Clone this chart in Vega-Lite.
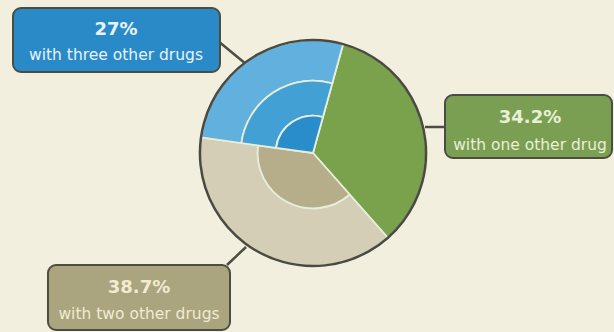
{
  "$schema": "https://vega.github.io/schema/vega-lite/v6.json",
  "width": 614,
  "height": 332,
  "padding": 0,
  "autosize": {"type": "none"},
  "background": "#f3efdf",
  "config": {"view": {"stroke": null}},
  "datasets": {
    "pie": [
      {"part": "pie-one", "t0": 0, "t1": 34.2, "r0": 0, "r1": 100, "cx": 313, "cy": 153},
      {"part": "pie-two-outer", "t0": 34.2, "t1": 72.9, "r0": 49, "r1": 100, "cx": 313, "cy": 153},
      {"part": "pie-two-inner", "t0": 34.2, "t1": 72.9, "r0": 0, "r1": 49, "cx": 313, "cy": 153},
      {"part": "pie-three-outer", "t0": 72.9, "t1": 100, "r0": 64, "r1": 100, "cx": 313, "cy": 153},
      {"part": "pie-three-mid", "t0": 72.9, "t1": 100, "r0": 33, "r1": 64, "cx": 313, "cy": 153},
      {"part": "pie-three-inner", "t0": 72.9, "t1": 100, "r0": 0, "r1": 33, "cx": 313, "cy": 153}
    ],
    "rim": [
      {"t0": 0, "t1": 100, "r0": 0, "r1": 100, "cx": 313, "cy": 153}
    ],
    "labels": [
      {"box": "three", "pct": "27%", "desc": "with three other drugs", "bx0": 13, "bx1": 220, "by0": 8, "by1": 72, "tx": 116, "ty1": 30, "ty2": 55, "lx0": 218, "ly0": 41, "lx1": 246, "ly1": 64},
      {"box": "one", "pct": "34.2%", "desc": "with one other drug", "bx0": 445, "bx1": 612, "by0": 95, "by1": 158, "tx": 530, "ty1": 118, "ty2": 145, "lx0": 425, "ly0": 127, "lx1": 445, "ly1": 127},
      {"box": "two", "pct": "38.7%", "desc": "with two other drugs", "bx0": 48, "bx1": 230, "by0": 265, "by1": 330, "tx": 139, "ty1": 288, "ty2": 314, "lx0": 246, "ly0": 247, "lx1": 227, "ly1": 265}
    ]
  },
  "layer": [
    {
      "data": {"name": "labels"},
      "mark": {"type": "rule", "stroke": "#4d4d44", "strokeWidth": 2.5},
      "encoding": {
        "x": {"field": "lx0", "type": "quantitative", "scale": {"domain": [0, 614], "nice": false, "zero": false}, "axis": null},
        "y": {"field": "ly0", "type": "quantitative", "scale": {"domain": [0, 332], "nice": false, "zero": false, "reverse": true}, "axis": null},
        "x2": {"field": "lx1"},
        "y2": {"field": "ly1"}
      }
    },
    {
      "data": {"name": "pie"},
      "mark": {"type": "arc", "stroke": "#e4eedb", "strokeWidth": 1.8},
      "encoding": {
        "x": {"field": "cx", "type": "quantitative"},
        "y": {"field": "cy", "type": "quantitative"},
        "theta": {"field": "t0", "type": "quantitative", "stack": null, "scale": {"domain": [0, 100], "range": [0.27, 6.5532]}},
        "theta2": {"field": "t1"},
        "radius": {"field": "r1", "type": "quantitative", "scale": {"type": "linear", "domain": [0, 100], "range": [0, 113], "zero": true, "nice": false}},
        "radius2": {"field": "r0"},
        "color": {
          "field": "part", "type": "nominal", "legend": null,
          "scale": {
            "domain": ["pie-one", "pie-two-outer", "pie-two-inner", "pie-three-outer", "pie-three-mid", "pie-three-inner", "one", "two", "three"],
            "range": ["#7aa24c", "#d4ceb6", "#b6ad8a", "#62b0dd", "#43a0d5", "#2a8dcb", "#7b9f52", "#aaa47f", "#2a8ac8"]
          }
        }
      }
    },
    {
      "data": {"name": "rim"},
      "mark": {"type": "arc", "fillOpacity": 0, "stroke": "#4a4a42", "strokeWidth": 2.5},
      "encoding": {
        "x": {"field": "cx", "type": "quantitative"},
        "y": {"field": "cy", "type": "quantitative"},
        "theta": {"field": "t0", "type": "quantitative", "stack": null},
        "theta2": {"field": "t1"},
        "radius": {"field": "r1", "type": "quantitative"},
        "radius2": {"field": "r0"}
      }
    },
    {
      "data": {"name": "labels"},
      "mark": {"type": "rect", "cornerRadius": 8, "stroke": "#4b4d42", "strokeWidth": 2},
      "encoding": {
        "x": {"field": "bx0", "type": "quantitative"},
        "x2": {"field": "bx1"},
        "y": {"field": "by0", "type": "quantitative"},
        "y2": {"field": "by1"},
        "color": {"field": "box", "type": "nominal", "legend": null}
      }
    },
    {
      "data": {"name": "labels"},
      "mark": {"type": "text", "font": "DejaVu Sans", "fontSize": 18, "fontWeight": "bold", "align": "center", "baseline": "middle"},
      "encoding": {
        "x": {"field": "tx", "type": "quantitative"},
        "y": {"field": "ty1", "type": "quantitative"},
        "text": {"field": "pct"},
        "fill": {"field": "box", "type": "nominal", "legend": null, "scale": {"domain": ["one", "two", "three"], "range": ["#e8f0d6", "#f1ebd0", "#e8f3f9"]}}
      }
    },
    {
      "data": {"name": "labels"},
      "mark": {"type": "text", "font": "DejaVu Sans", "fontSize": 15.5, "align": "center", "baseline": "middle"},
      "encoding": {
        "x": {"field": "tx", "type": "quantitative"},
        "y": {"field": "ty2", "type": "quantitative"},
        "text": {"field": "desc"},
        "fill": {"field": "box", "type": "nominal", "legend": null}
      }
    }
  ]
}
